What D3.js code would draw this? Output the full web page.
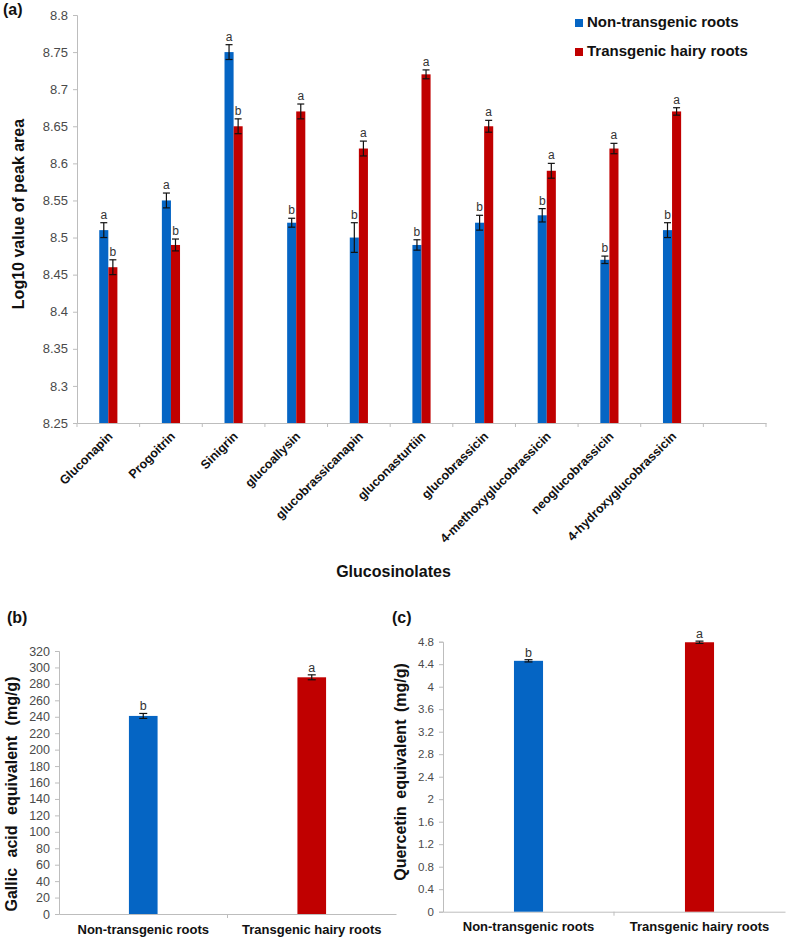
<!DOCTYPE html>
<html><head><meta charset="utf-8">
<script src="https://cdn.jsdelivr.net/npm/d3@7"></script>
<style>
html,body{margin:0;padding:0;background:#fff;}
svg{display:block;font-family:"Liberation Sans",Arial,sans-serif;}
</style></head>
<body>
<svg id="chart" width="787" height="939"></svg>
<script>
// ---------- DATA ----------
const glsCategories = ["Gluconapin","Progoitrin","Sinigrin","glucoallysin","glucobrassicanapin","gluconasturtiin","glucobrassicin","4-methoxyglucobrassicin","neoglucobrassicin","4-hydroxyglucobrassicin"];
const seriesNames = ["Non-transgenic roots","Transgenic hairy roots"];
const nonTransValues = [8.51,8.55,8.75,8.52,8.50,8.49,8.52,8.53,8.47,8.51];
const nonTransErrors = [0.01,0.01,0.01,0.006,0.02,0.007,0.01,0.009,0.005,0.01];
const nonTransLetters = ["a","a","a","b","b","b","b","b","b","b"];
const transValues = [8.46,8.49,8.65,8.67,8.62,8.72,8.65,8.59,8.62,8.67];
const transErrors = [0.01,0.008,0.01,0.01,0.01,0.006,0.008,0.01,0.007,0.005];
const transLetters = ["b","b","b","a","a","a","a","a","a","a"];
const glsTicks = [8.25,8.3,8.35,8.4,8.45,8.5,8.55,8.6,8.65,8.7,8.75,8.8];

const phenolValues = [241,288];
const phenolErrors = [3,3];
const phenolLetters = ["b","a"];
const phenolTicks = [0,20,40,60,80,100,120,140,160,180,200,220,240,260,280,300,320];

const flavValues = [4.46,4.79];
const flavErrors = [0.02,0.02];
const flavLetters = ["b","a"];
const flavTicks = [0,0.4,0.8,1.2,1.6,2,2.4,2.8,3.2,3.6,4,4.4,4.8];

const colors = ["#0565C4","#C00000"];
const axisColor = "#bdbdbd";
const tickTextColor = "#4a4a4a";

const svg = d3.select("#chart");
const fmt = d => String(+(+d).toFixed(2));

function styleAxis(g, fontSize){
  g.select(".domain").attr("stroke", axisColor).attr("stroke-width",1);
  g.selectAll(".tick line").attr("stroke", axisColor).attr("stroke-width",1);
  g.selectAll(".tick text").attr("fill", tickTextColor).attr("font-size", fontSize)
    .attr("font-family","Liberation Sans, Arial, sans-serif");
}

function errBar(g, x, yTop, yBot, capW){
  g.append("line").attr("x1",x).attr("x2",x).attr("y1",yTop).attr("y2",yBot)
    .attr("stroke","#111").attr("stroke-width",1.2);
  [yTop,yBot].forEach(yy=>g.append("line").attr("x1",x-capW/2).attr("x2",x+capW/2)
    .attr("y1",yy).attr("y2",yy).attr("stroke","#111").attr("stroke-width",1.2));
}

// ---------- PANEL A ----------
(function(){
  const left=77, right=766, top=15, bottom=423;
  const slots = glsCategories.concat([" "]);
  const x = d3.scaleBand().domain(slots).range([left,right]).padding(0);
  const y = d3.scaleLinear().domain([8.25,8.8]).range([bottom,top]);
  const xs = d3.scaleBand().domain(seriesNames).range([0,x.bandwidth()]).paddingInner(0).paddingOuter(2.45);
  const g = svg.append("g");

  // axes
  const ya = g.append("g").attr("transform",`translate(${left},0)`)
    .call(d3.axisLeft(y).tickValues(glsTicks).tickFormat(fmt).tickSizeOuter(0).tickSize(4).tickPadding(5));
  styleAxis(ya, "13px");
  const xa = g.append("g").attr("transform",`translate(0,${bottom})`)
    .call(d3.axisBottom(x).tickSize(0).tickFormat(""));
  xa.select(".domain").attr("stroke",axisColor);
  // boundary ticks
  const bounds = slots.map(s=>x(s)).concat([right]);
  xa.selectAll(".bt").data(bounds).enter().append("line")
    .attr("x1",d=>d).attr("x2",d=>d).attr("y1",0).attr("y2",4).attr("stroke",axisColor);

  const sets = [
    {vals:nonTransValues, errs:nonTransErrors, lets:nonTransLetters, name:seriesNames[0], c:colors[0]},
    {vals:transValues, errs:transErrors, lets:transLetters, name:seriesNames[1], c:colors[1]}
  ];
  sets.forEach(s=>{
    glsCategories.forEach((cat,i)=>{
      const bx = x(cat)+xs(s.name), bw = xs.bandwidth();
      g.append("rect").attr("x",bx).attr("y",y(s.vals[i])).attr("width",bw)
        .attr("height",y(8.25)-y(s.vals[i])).attr("fill",s.c);
      const cx = bx+bw/2;
      errBar(g, cx, y(s.vals[i]+s.errs[i]), y(s.vals[i]-s.errs[i]), 7);
      g.append("text").attr("x",cx).attr("y",y(s.vals[i]+s.errs[i])-4)
        .attr("text-anchor","middle").attr("font-size","12px").attr("fill","#333").text(s.lets[i]);
    });
  });

  // category labels
  glsCategories.forEach(cat=>{
    const cx = x(cat)+x.bandwidth()/2;
    g.append("text").attr("transform",`translate(${cx+5},${bottom+14}) rotate(-45)`)
      .attr("text-anchor","end").attr("font-size","12.5px").attr("font-weight","bold")
      .attr("fill","#111").text(cat);
  });

  // titles
  g.append("text").attr("transform",`translate(24,214) rotate(-90)`).attr("text-anchor","middle")
    .attr("font-size","16px").attr("font-weight","bold").attr("fill","#111").text("Log10 value of peak area");
  g.append("text").attr("x",393.5).attr("y",577).attr("text-anchor","middle")
    .attr("font-size","16px").attr("font-weight","bold").attr("fill","#111").text("Glucosinolates");
  g.append("text").attr("x",3).attr("y",15).attr("font-size","16px").attr("font-weight","bold").attr("fill","#111").text("(a)");

  // legend
  const lg = g.append("g");
  seriesNames.forEach((n,i)=>{
    const yy = 27 + i*29;
    lg.append("rect").attr("x",575).attr("y",yy-8).attr("width",8).attr("height",8).attr("fill",colors[i]);
    lg.append("text").attr("x",587).attr("y",yy).attr("font-size","15px").attr("font-weight","bold")
      .attr("fill","#111").text(n);
  });
})();

// ---------- PANELS B & C ----------
function smallPanel(opts){
  const {left,right,top,bottom,domainMax,ticks,vals,errs,lets,title,titleX,titleY,label,labelX,tickFont,titleSpacing,labelBaseline} = opts;
  const x = d3.scaleBand().domain(seriesNames).range([left,right]).padding(0);
  const y = d3.scaleLinear().domain([0,domainMax]).range([bottom,top]);
  const g = svg.append("g");
  const ya = g.append("g").attr("transform",`translate(${left},0)`)
    .call(d3.axisLeft(y).tickValues(ticks).tickFormat(fmt).tickSizeOuter(0).tickSize(4).tickPadding(5));
  styleAxis(ya, tickFont);
  const xa = g.append("g").attr("transform",`translate(0,${bottom})`)
    .call(d3.axisBottom(x).tickSize(0).tickFormat(""));
  xa.select(".domain").attr("stroke",axisColor);
  [x(seriesNames[1])].forEach(b=>xa.append("line").attr("x1",b).attr("x2",b).attr("y1",0).attr("y2",4).attr("stroke",axisColor));

  const bw = x.bandwidth()*0.17;
  seriesNames.forEach((n,i)=>{
    const cx = x(n)+x.bandwidth()/2;
    g.append("rect").attr("x",cx-bw/2).attr("y",y(vals[i])).attr("width",bw)
      .attr("height",y(0)-y(vals[i])).attr("fill",colors[i]);
    errBar(g, cx, y(vals[i]+errs[i]), y(vals[i]-errs[i]), 8);
    g.append("text").attr("x",cx).attr("y",y(vals[i]+errs[i])-3).attr("text-anchor","middle")
      .attr("font-size","12.5px").attr("fill","#333").text(lets[i]);
    g.append("text").attr("x",cx).attr("y",labelBaseline).attr("text-anchor","middle")
      .attr("font-size","13px").attr("font-weight","bold").attr("fill","#111").text(n);
  });
  g.append("text").attr("transform",`translate(${titleX},${titleY}) rotate(-90)`).attr("text-anchor","middle")
    .attr("font-size","16px").attr("font-weight","bold").attr("fill","#111")
    .attr("word-spacing",titleSpacing).text(title);
  g.append("text").attr("x",labelX).attr("y",623).attr("font-size","16px").attr("font-weight","bold").attr("fill","#111").text(label);
}

smallPanel({left:59,right:396,top:651,bottom:914,domainMax:320,ticks:phenolTicks,vals:phenolValues,errs:phenolErrors,
  lets:phenolLetters,title:"Gallic acid equivalent (mg/g)",titleX:17,titleY:794,label:"(b)",labelX:7,tickFont:"12.5px",
  titleSpacing:"6px",labelBaseline:934});
smallPanel({left:443,right:785,top:641.7,bottom:911.7,domainMax:4.8,ticks:flavTicks,vals:flavValues,errs:flavErrors,
  lets:flavLetters,title:"Quercetin equivalent (mg/g)",titleX:406,titleY:772,label:"(c)",labelX:392,tickFont:"11.5px",
  titleSpacing:"3px",labelBaseline:931});
</script>
</body></html>
